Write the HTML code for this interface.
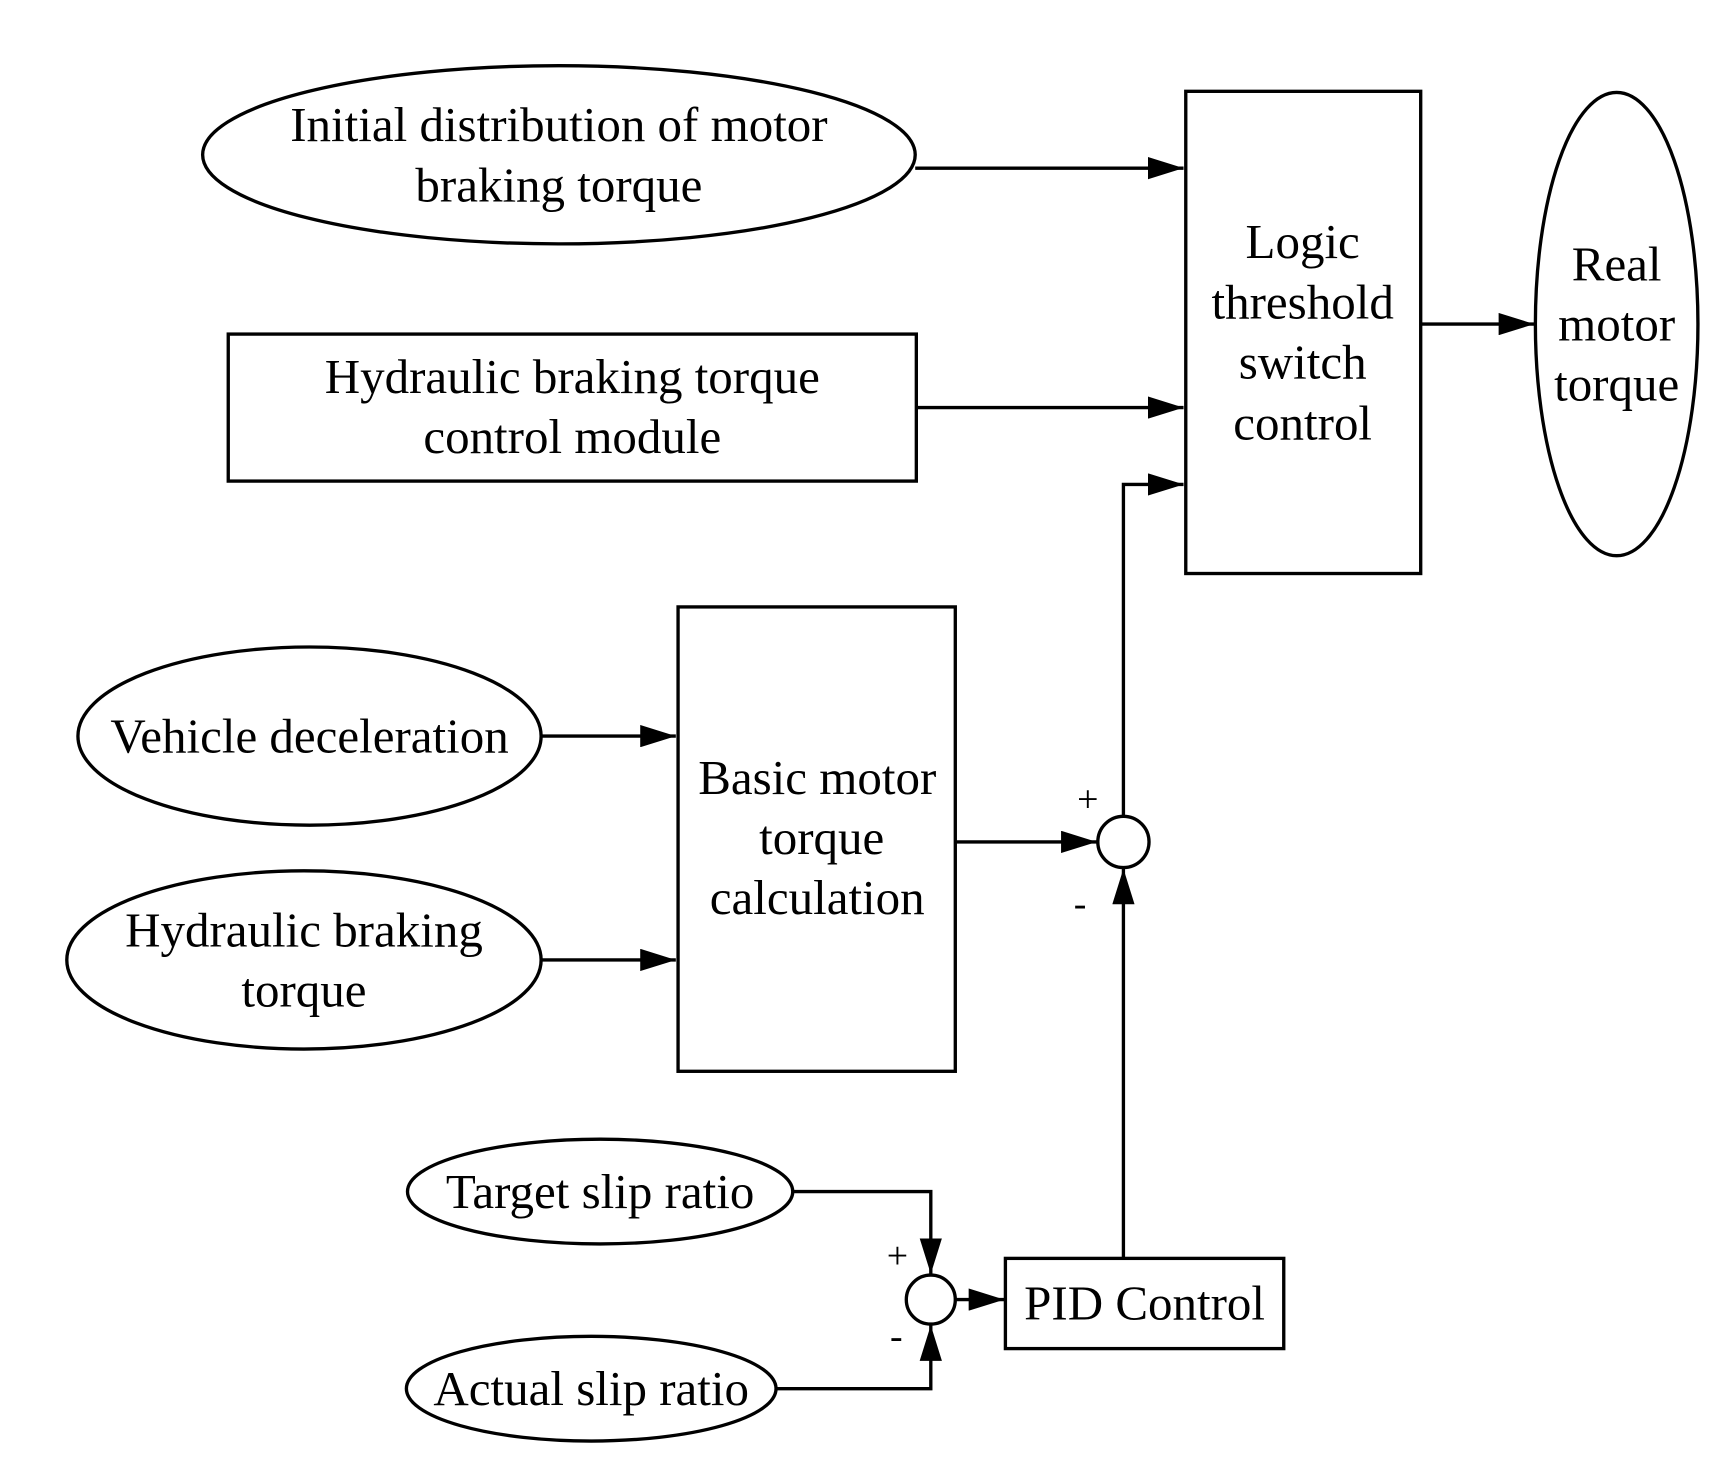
<!DOCTYPE html>
<html><head><meta charset="utf-8"><style>
html,body{margin:0;padding:0;background:#fff;}
svg{display:block;}
text{font-family:"Liberation Serif",serif;font-size:44px;fill:#000;text-anchor:middle;dominant-baseline:central;}
</style></head><body>
<svg width="1728" height="1480" viewBox="0 0 1552 1329" preserveAspectRatio="none" xmlns="http://www.w3.org/2000/svg">
<defs>
<marker id="b" viewBox="0 0 32 20" markerWidth="32" markerHeight="20" refX="32" refY="10" orient="auto" markerUnits="userSpaceOnUse"><path d="M0,0 L32,10 L0,20 z" fill="#000"/></marker></defs>
<g fill="none" stroke="#000" stroke-width="3">
<ellipse cx="502" cy="139" rx="320" ry="80"/>
<rect x="205" y="300" width="618" height="132"/>
<rect x="1065" y="82" width="211" height="433"/>
<ellipse cx="1452" cy="291" rx="73" ry="208"/>
<rect x="609" y="545" width="249" height="417"/>
<ellipse cx="278" cy="661" rx="208" ry="80"/>
<ellipse cx="273" cy="862" rx="213" ry="80"/>
<circle cx="1009" cy="756" r="23"/>
<ellipse cx="539" cy="1070" rx="173" ry="47"/>
<ellipse cx="531" cy="1247" rx="166" ry="47"/>
<circle cx="836" cy="1167" r="22"/>
<rect x="903" y="1130" width="250" height="81"/>
<g marker-end="url(#b)">
<path d="M822,151 H1063"/>
<path d="M823,366 H1063"/>
<path d="M1276,291 H1378"/>
<path d="M1009,733 V435 H1063"/>
<path d="M486,661 H607"/>
<path d="M486,862 H607"/>
<path d="M858,756 H985"/>
<path d="M1009,1130 V780"/>
<path d="M712,1070 H836 V1144"/>
<path d="M697,1247 H836 V1190"/>
<path d="M858,1167 H902"/>
</g></g>
<text x="502" y="112">Initial distribution of motor</text>
<text x="502" y="166">braking torque</text>
<text x="514" y="338">Hydraulic braking torque</text>
<text x="514" y="392">control module</text>
<text x="1170" y="217">Logic</text>
<text x="1170" y="271">threshold</text>
<text x="1170" y="325">switch</text>
<text x="1170" y="380">control</text>
<text x="1452" y="237">Real</text>
<text x="1452" y="291">motor</text>
<text x="1452" y="345">torque</text>
<text x="734" y="698">Basic motor</text>
<text x="738" y="752">torque</text>
<text x="734" y="806">calculation</text>
<text x="278" y="661">Vehicle deceleration</text>
<text x="273" y="835">Hydraulic braking</text>
<text x="273" y="889">torque</text>
<text x="539" y="1070">Target slip ratio</text>
<text x="531" y="1247">Actual slip ratio</text>
<text x="1028" y="1170">PID Control</text>
<text x="977" y="718" style="font-size:34px">+</text>
<text x="970" y="812" style="font-size:34px">-</text>
<text x="806" y="1128" style="font-size:34px">+</text>
<text x="805" y="1200" style="font-size:34px">-</text>
</svg>
</body></html>
